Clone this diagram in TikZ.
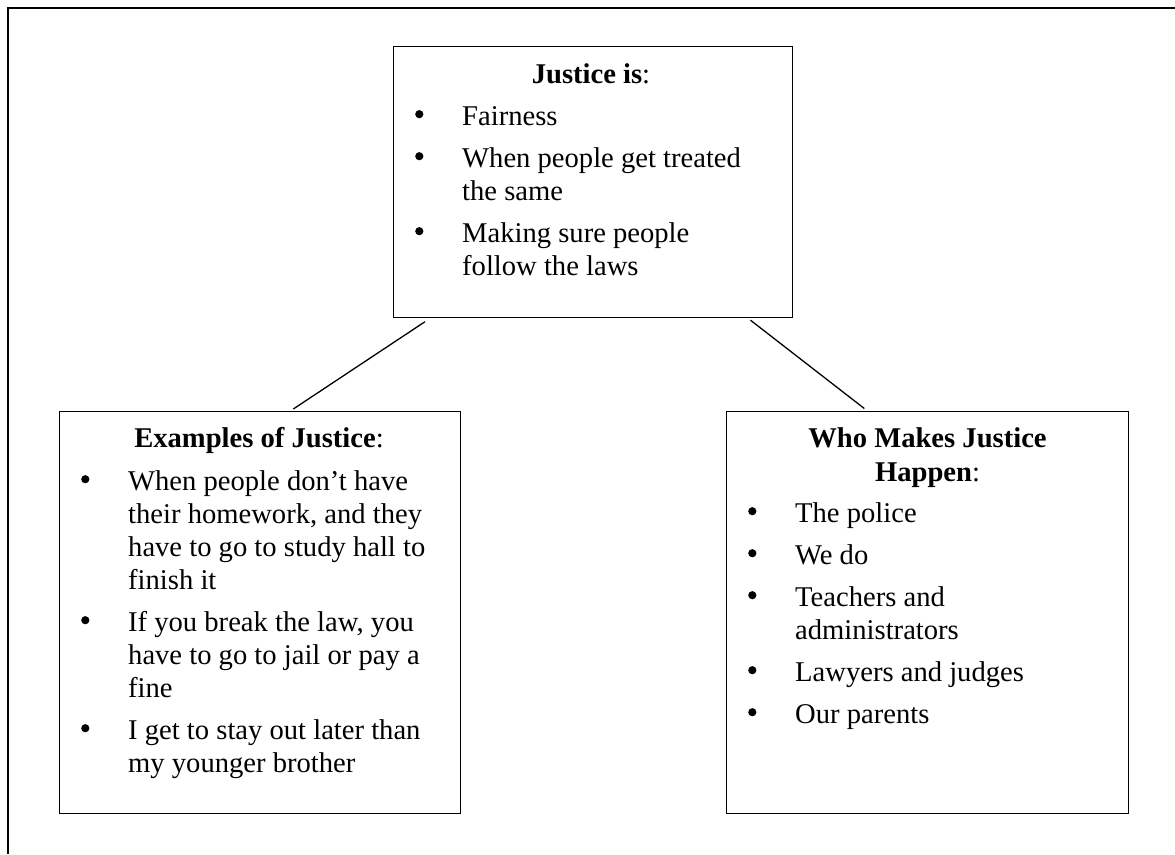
\documentclass[tikz,border=0pt]{standalone}
\usepackage{fontspec}
\setmainfont{Liberation Serif}
\usetikzlibrary{calc}
\newcommand{\bulmark}{\tikz[x=1pt,y=1pt,baseline=0pt]{\fill[black] (5,10.8) circle (4.1pt);}}
\newcommand{\bul}[1]{\par\hangindent=47pt\hangafter=1\noindent\makebox[47pt][l]{\bulmark}#1}
\newcommand{\blist}[1]{\parbox[t]{380pt}{\fontsize{28.6}{33}\selectfont\setlength{\parskip}{9pt}#1}}
\tikzset{
  box/.style={draw=black, line width=1.2pt, rectangle, inner sep=0pt, anchor=north west},
  ttl/.style={inner sep=0pt, anchor=base, font=\fontsize{28.6}{33.5}\selectfont},
  itms/.style={inner sep=0pt, anchor=base west},
  link/.style={draw=black, line width=1.3pt},
  frame/.style={draw=black, line width=1.3pt}
}
\begin{document}
\begin{tikzpicture}[x=1pt,y=-1pt]
\useasboundingbox (0,0) rectangle (1175,854);
% outer frame (top and left only)
\coordinate (fr1) at (1175,8);
\coordinate (fr0) at (8,8);
\coordinate (fr2) at (8,854);
\draw[frame] (fr1) -- (fr0) -- (fr2);
% boxes
\node[box, minimum width=399pt, minimum height=271.5pt] (top) at (393,45.5) {};
\node[box, minimum width=401pt, minimum height=402.5pt] (left) at (59,410.5) {};
\node[box, minimum width=402pt, minimum height=402.5pt] (right) at (726,410.5) {};
% titles
\node[ttl] (toptitle) at (591,83) {\textbf{Justice is}:};
\node[ttl] (lefttitle) at (259,447) {\textbf{Examples of Justice}:};
\node[ttl] (righttitle) at (927.5,447) {\parbox[t]{320pt}{\centering\fontsize{28.6}{34}\selectfont\textbf{Who Makes Justice}\\\textbf{Happen}:}};
% items
\node[itms] (topitems) at (415,125) {\blist{%
\bul{Fairness}
\bul{When people get treated\\the same}
\bul{Making sure people\\follow the laws}}};
\node[itms] (leftitems) at (81,490) {\blist{%
\bul{When people don’t have\\their homework, and they\\have to go to study hall to\\finish it}
\bul{If you break the law, you\\have to go to jail or pay a\\fine}
\bul{I get to stay out later than\\my younger brother}}};
\node[itms] (rightitems) at (748,522) {\blist{%
\bul{The police}
\bul{We do}
\bul{Teachers and\\administrators}
\bul{Lawyers and judges}
\bul{Our parents}}};
% connectors
\draw[link] ($(top.south west)+(32,3.5)$) -- ($(left.north west)+(234.3,-1.5)$);
\draw[link] ($(top.south east)+(-42.7,2)$) -- ($(right.north west)+(138.3,-2)$);
\end{tikzpicture}
\end{document}
